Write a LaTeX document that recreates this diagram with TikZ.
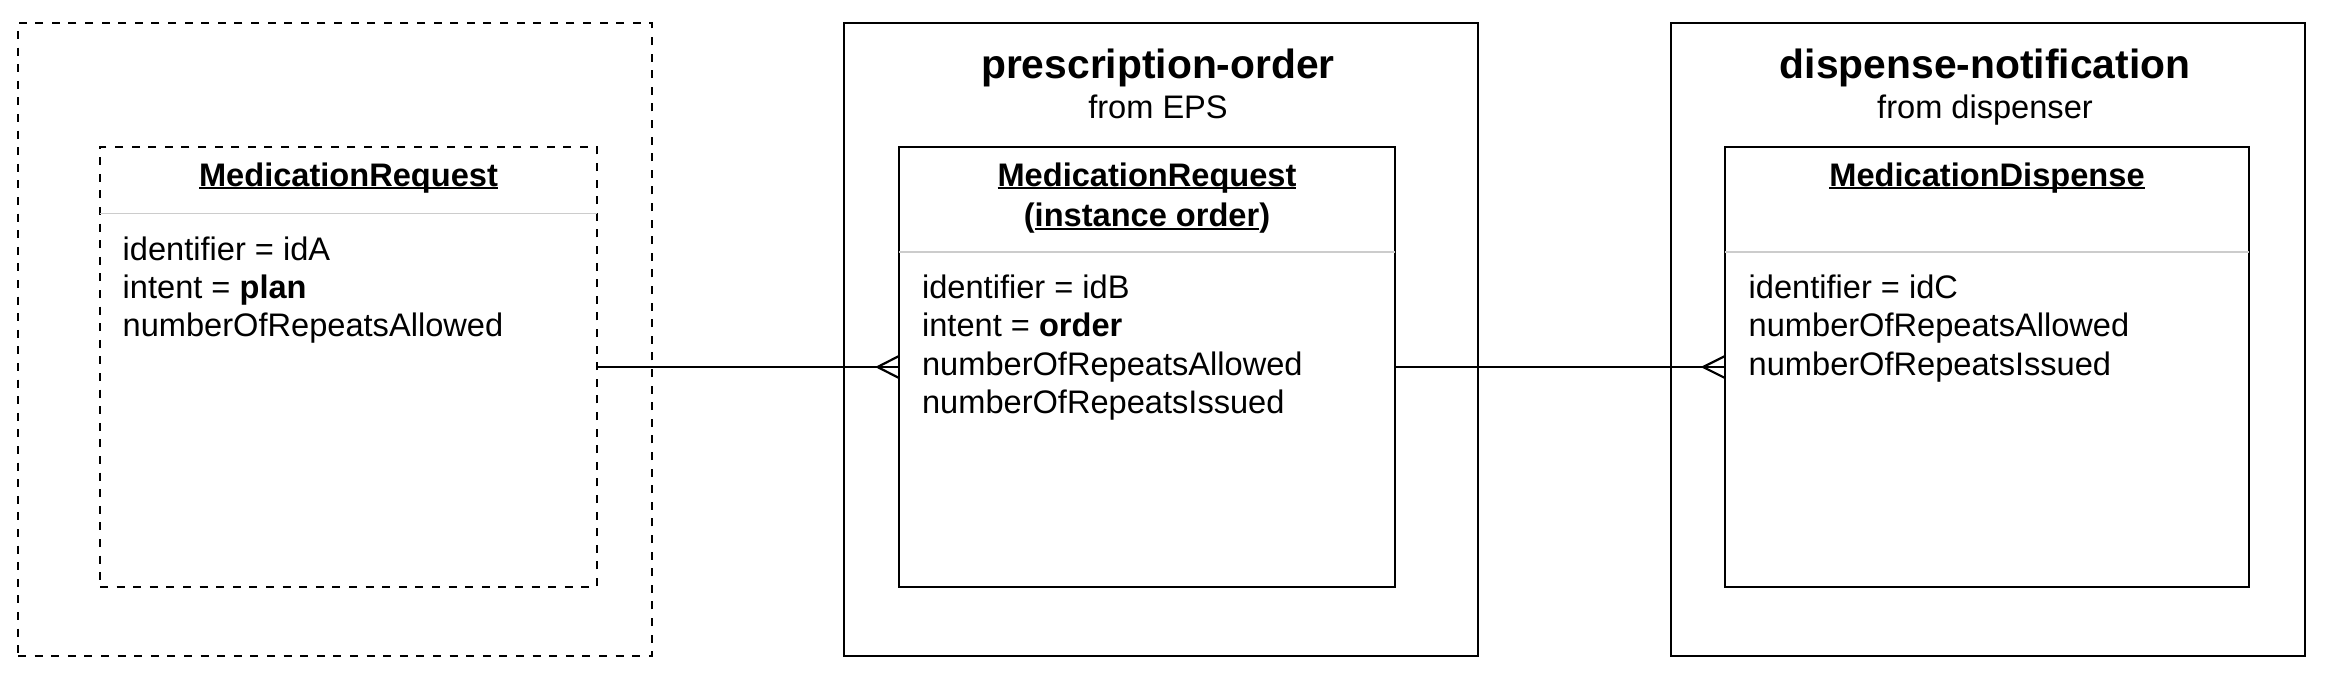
\documentclass[tikz,border=0pt]{standalone}
\usepackage{fontspec}
\setmainfont{Liberation Sans}[Ligatures=NoCommon]
\newsavebox\ulbox
\newcommand\myul[1]{\sbox\ulbox{#1}\rlap{\rule[-0.1em]{\wd\ulbox}{0.055em}}\usebox\ulbox}
\newcommand\bodyfont{\fontsize{16.3}{19.15}\selectfont}
\newcommand\titlefont{\fontsize{20.4}{24}\selectfont\bfseries}
\definecolor{sepgray}{HTML}{CCCCCC}
\tikzset{
  boxline/.style={draw, line width=1.3pt, anchor=north west, inner sep=0pt, outer sep=0pt},
  outerbox/.style={boxline, minimum width=317pt, minimum height=316.5pt},
  classbox/.style={boxline, minimum height=220pt},
  dashedline/.style={dash pattern=on 4pt off 4.3pt},
  sepline/.style={draw=sepgray, line width=0.6pt},
  conn/.style={draw, line width=1.1pt},
  txt/.style={anchor=base west, inner sep=0pt, font=\bodyfont},
  hdr/.style={anchor=base, inner sep=0pt, font=\bodyfont\bfseries},
  ttl/.style={anchor=base, inner sep=0pt, font=\titlefont},
  sub/.style={anchor=base, inner sep=0pt, font=\bodyfont},
}
\begin{document}
\begin{tikzpicture}[x=0.5pt,y=-0.5pt]
\useasboundingbox (0,0) rectangle (2338,692);
% outer containers
\node[outerbox, dashedline] (grpA) at (18,23) {};
\node[outerbox] (grpB) at (844,23) {};
\node[outerbox] (grpC) at (1671,23) {};
% titles
\node[ttl] (ttlB) at (1158,78) {prescription-order};
\node[sub] (subB) at (1158,118.3) {from EPS};
\node[ttl] (ttlC) at (1985,78) {dispense-notification};
\node[sub] (subC) at (1985,118.3) {from dispenser};
% class boxes
\node[classbox, dashedline, minimum width=248.5pt] (reqA) at (100,147) {};
\node[classbox, minimum width=248pt] (reqB) at (899,147) {};
\node[classbox, minimum width=262pt] (disC) at (1725,147) {};
% separators
\draw[sepline] (reqA.west |- 0,213.3) -- (reqA.east |- 0,213.3);
\draw[sepline] (reqB.west |- 0,252) -- (reqB.east |- 0,252);
\draw[sepline] (disC.west |- 0,252) -- (disC.east |- 0,252);
% headers
\node[hdr] (hA) at (348.5,186) {\myul{MedicationRequest}};
\node[hdr] (hB1) at (1147,186) {\myul{MedicationRequest}};
\node[hdr] (hB2) at (1147,226.7) {(\myul{instance order})};
\node[hdr] (hC) at (1987,186) {\myul{MedicationDispense}};
% attributes A
\node[txt] (a1) at (122.3,260) {identifier = idA};
\node[txt] (a2) at (122.3,298.3) {intent = \textbf{plan}};
\node[txt] (a3) at (122.3,336.7) {numberOfRepeatsAllowed};
% attributes B
\node[txt] (b1) at (921.7,298.3) {identifier = idB};
\node[txt] (b2) at (921.7,336.7) {intent = \textbf{order}};
\node[txt] (b3) at (921.7,375) {numberOfRepeatsAllowed};
\node[txt] (b4) at (921.7,413.3) {numberOfRepeatsIssued};
% attributes C
\node[txt] (c1) at (1748.3,298.3) {identifier = idC};
\node[txt] (c2) at (1748.3,336.7) {numberOfRepeatsAllowed};
\node[txt] (c3) at (1748.3,375) {numberOfRepeatsIssued};
% connectors
\draw[conn] (reqA.east) -- (reqB.west);
\coordinate (tipB) at ([xshift=-10.75pt]reqB.west);
\draw[conn] ([yshift=5.5pt]reqB.west) -- (tipB) -- ([yshift=-5.5pt]reqB.west);
\draw[conn] (reqB.east) -- (disC.west);
\coordinate (tipC) at ([xshift=-11pt]disC.west);
\draw[conn] ([yshift=5.5pt]disC.west) -- (tipC) -- ([yshift=-5.5pt]disC.west);
\end{tikzpicture}
\end{document}
